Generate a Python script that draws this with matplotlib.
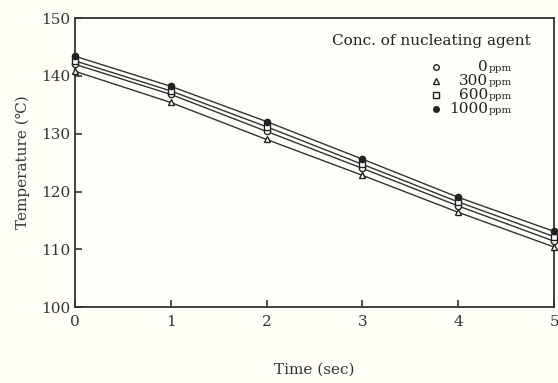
import numpy as np
import matplotlib.pyplot as plt

plt.rcParams['font.family'] = ['DejaVu Serif']

# data
time = [0, 1, 2, 3, 4, 5]
t_0 = [142.0, 136.8, 130.4, 124.0, 117.5, 111.4]
t_300 = [140.8, 135.4, 129.0, 122.8, 116.4, 110.4]
t_600 = [142.6, 137.4, 131.2, 124.7, 118.2, 112.2]
t_1000 = [143.4, 138.2, 132.1, 125.6, 119.0, 113.1]
conc = ['0', '300', '600', '1000']
markers = ['o', '^', 's', 'o']
fills = ['white', 'white', 'white', '#222222']
series = [t_0, t_300, t_600, t_1000]

fig = plt.figure(figsize=(5.58, 3.83), dpi=100, facecolor='#fffef7')
ax = fig.add_axes([0.134, 0.198, 0.859, 0.755])
ax.set_facecolor('#fffef9')

for y, m, fc in zip(series, markers, fills):
    ax.plot(time, y, color='#333333', lw=1.0, marker=m, ms=4.5,
            mfc=fc, mec='#222222', mew=1.0, clip_on=False, zorder=3)

ax.set_xlim(0, 5)
ax.set_ylim(100, 150)
ax.set_xticks(time)
ax.set_yticks([100, 110, 120, 130, 140, 150])
ax.tick_params(direction='in', length=5, width=1.2, labelsize=11,
               colors='#333333', pad=3)
ax.tick_params(axis='x', pad=6)
for s in ax.spines.values():
    s.set_linewidth(1.3)
    s.set_color('#333333')

ax.set_xlabel('Time (sec)', fontsize=11, color='#333333', labelpad=24)
ax.set_ylabel('Temperature (℃)', fontsize=11, color='#333333', labelpad=8)

# legend drawn by hand (mixed font sizes)
ax.text(0.745, 0.92, 'Conc. of nucleating agent', transform=ax.transAxes,
        ha='center', va='center', fontsize=11, color='#222222')
ys = [0.830, 0.782, 0.734, 0.685]
for c, m, fc, yy in zip(conc, markers, fills, ys):
    ax.plot([0.754], [yy], transform=ax.transAxes, marker=m, ms=4,
            mfc=fc, mec='#222222', mew=1.0, ls='none')
    ax.text(0.862, yy, c, transform=ax.transAxes, ha='right', va='center',
            fontsize=11, color='#222222')
    ax.text(0.864, yy - 0.006, 'ppm', transform=ax.transAxes, ha='left',
            va='center', fontsize=7.5, color='#222222')

fig.savefig('out.png', dpi=100, facecolor=fig.get_facecolor())
